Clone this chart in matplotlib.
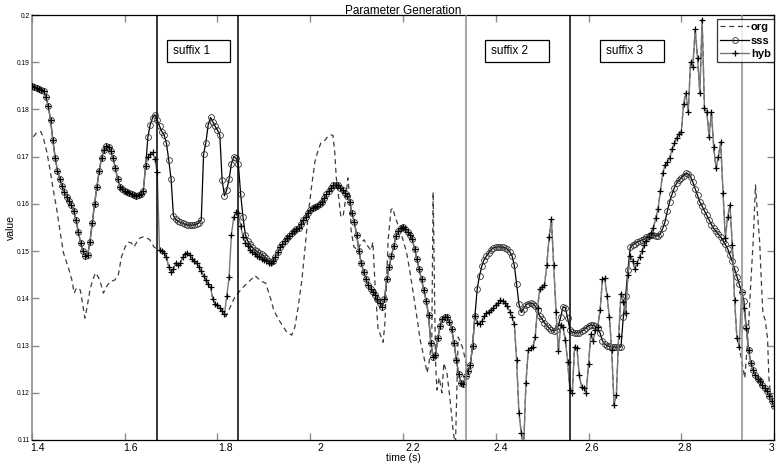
import numpy as np
import matplotlib.pyplot as plt
from matplotlib.patches import Rectangle
from matplotlib.transforms import ScaledTranslation

plt.rcParams['font.family'] = ['Liberation Sans', 'DejaVu Sans']

# Frames every 5 ms. Segments where sss and hyb coincide are shared.
step = 0.005

# 1.400 .. 1.645 (shared by sss and hyb)
seg_a = [0.1850, 0.1848, 0.1846, 0.1844, 0.1842, 0.1840, 0.1826, 0.1808, 0.1778, 0.1735,
         0.1698, 0.1670, 0.1652, 0.1638, 0.1625, 0.1615, 0.1606, 0.1597, 0.1585, 0.1565,
         0.1540, 0.1517, 0.1500, 0.1490, 0.1492, 0.1520, 0.1560, 0.1600, 0.1636, 0.1670,
         0.1698, 0.1714, 0.1722, 0.1720, 0.1713, 0.1697, 0.1675, 0.1652, 0.1636, 0.1631,
         0.1628, 0.1625, 0.1623, 0.1621, 0.1619, 0.1617, 0.1618, 0.1622, 0.1628, 0.1680]

# 1.650 .. 1.915 (suffix 1)
sss_s1 = [0.1742, 0.1768, 0.1782, 0.1789, 0.1778, 0.1765, 0.1753, 0.1746, 0.1728, 0.1692,
          0.1652, 0.1575, 0.1567, 0.1563, 0.1561, 0.1559, 0.1557, 0.1555, 0.1555, 0.1555,
          0.1556, 0.1557, 0.1560, 0.1566, 0.1705, 0.1730, 0.1768, 0.1783, 0.1774, 0.1764,
          0.1756, 0.1746, 0.1650, 0.1617, 0.1630, 0.1652, 0.1685, 0.1700, 0.1697, 0.1684,
          0.1620, 0.1572, 0.1535, 0.1522, 0.1514, 0.1508, 0.1503, 0.1500, 0.1496, 0.1493,
          0.1490, 0.1485, 0.1480, 0.1477]
hyb_s1 = [0.1700, 0.1706, 0.1709, 0.1695, 0.1667, 0.1502, 0.1501, 0.1496, 0.1488, 0.1466,
          0.1456, 0.1462, 0.1475, 0.1470, 0.1475, 0.1487, 0.1494, 0.1496, 0.1492, 0.1483,
          0.1478, 0.1474, 0.1466, 0.1457, 0.1448, 0.1438, 0.1430, 0.1424, 0.1398, 0.1388,
          0.1385, 0.1380, 0.1374, 0.1367, 0.1405, 0.1445, 0.1535, 0.1572, 0.1582, 0.1580,
          0.1553, 0.1530, 0.1518, 0.1510, 0.1503, 0.1498, 0.1494, 0.1490, 0.1487, 0.1484,
          0.1481, 0.1478, 0.1475, 0.1474]

# 1.920 .. 2.345 (shared)
seg_b = [0.1480, 0.1488, 0.1498, 0.1508, 0.1514, 0.1522, 0.1528, 0.1533, 0.1538, 0.1543,
         0.1547, 0.1550, 0.1558, 0.1566, 0.1573, 0.1580, 0.1587, 0.1591, 0.1593, 0.1596,
         0.1600, 0.1604, 0.1612, 0.1620, 0.1627, 0.1634, 0.1639, 0.1640, 0.1639, 0.1634,
         0.1629, 0.1623, 0.1617, 0.1605, 0.1580, 0.1562, 0.1535, 0.1500, 0.1475, 0.1455,
         0.1440, 0.1428, 0.1420, 0.1414, 0.1407, 0.1399, 0.1390, 0.1382, 0.1398, 0.1440,
         0.1466, 0.1490, 0.1510, 0.1532, 0.1543, 0.1549, 0.1551, 0.1547, 0.1540, 0.1535,
         0.1525, 0.1505, 0.1483, 0.1462, 0.1440, 0.1418, 0.1395, 0.1365, 0.1305, 0.1276,
         0.1280, 0.1315, 0.1342, 0.1357, 0.1360, 0.1360, 0.1350, 0.1335, 0.1305, 0.1270,
         0.1240, 0.1220, 0.1219, 0.1235, 0.1247, 0.1258]

# 2.350 .. 3.000 (suffix 2 and 3)
sss_s23 = [0.1300, 0.1362, 0.1420, 0.1448, 0.1468, 0.1482, 0.1490, 0.1496, 0.1503, 0.1507,
           0.1508, 0.1509, 0.1509, 0.1508, 0.1507, 0.1504, 0.1499, 0.1490, 0.1470, 0.1430,
           0.1388, 0.1370, 0.1378, 0.1386, 0.1389, 0.1390, 0.1389, 0.1384, 0.1375, 0.1362,
           0.1356, 0.1348, 0.1342, 0.1337, 0.1332, 0.1331, 0.1333, 0.1342, 0.1360, 0.1382,
           0.1380, 0.1358, 0.1333, 0.1328, 0.1327, 0.1327, 0.1327, 0.1330, 0.1333, 0.1338,
           0.1342, 0.1343, 0.1343, 0.1341, 0.1337, 0.1326, 0.1310, 0.1303, 0.1300, 0.1298,
           0.1297, 0.1297, 0.1297, 0.1297, 0.1297, 0.1360, 0.1405, 0.1460, 0.1508, 0.1513,
           0.1516, 0.1519, 0.1521, 0.1523, 0.1526, 0.1530, 0.1533, 0.1535, 0.1534, 0.1533,
           0.1532, 0.1537, 0.1548, 0.1562, 0.1585, 0.1605, 0.1620, 0.1634, 0.1644, 0.1650,
           0.1655, 0.1660, 0.1665, 0.1663, 0.1658, 0.1646, 0.1632, 0.1618, 0.1604, 0.1595,
           0.1585, 0.1576, 0.1566, 0.1556, 0.1548, 0.1542, 0.1536, 0.1530, 0.1522, 0.1514,
           0.1505, 0.1492, 0.1478, 0.1462, 0.1446, 0.1430, 0.1414, 0.1395, 0.1340, 0.1290,
           0.1264, 0.1248, 0.1237, 0.1230, 0.1224, 0.1216, 0.1210, 0.1203, 0.1193, 0.1182, 0.1172]
hyb_s23 = [0.1300, 0.1362, 0.1348, 0.1346, 0.1352, 0.1362, 0.1368, 0.1372, 0.1375, 0.1380,
           0.1386, 0.1390, 0.1396, 0.1394, 0.1390, 0.1384, 0.1372, 0.1360, 0.1345, 0.1270,
           0.1157, 0.1115, 0.1080, 0.1220, 0.1290, 0.1295, 0.1297, 0.1318, 0.1380, 0.1420,
           0.1424, 0.1428, 0.1470, 0.1530, 0.1568, 0.1470, 0.1370, 0.1288, 0.1343, 0.1340,
           0.1312, 0.1265, 0.1205, 0.1200, 0.1297, 0.1295, 0.1238, 0.1212, 0.1210, 0.1200,
           0.1260, 0.1325, 0.1310, 0.1332, 0.1340, 0.1375, 0.1440, 0.1443, 0.1405, 0.1360,
           0.1290, 0.1175, 0.1195, 0.1320, 0.1410, 0.1392, 0.1368, 0.1450, 0.1490, 0.1480,
           0.1462, 0.1475, 0.1488, 0.1500, 0.1512, 0.1522, 0.1530, 0.1538, 0.1550, 0.1570,
           0.1590, 0.1628, 0.1665, 0.1682, 0.1689, 0.1697, 0.1716, 0.1728, 0.1740, 0.1748,
           0.1752, 0.1812, 0.1835, 0.1795, 0.1900, 0.1890, 0.1970, 0.1910, 0.1835, 0.1990,
           0.1803, 0.1795, 0.1742, 0.1795, 0.1720, 0.1676, 0.1700, 0.1731, 0.1623, 0.1528,
           0.1572, 0.1598, 0.1513, 0.1396, 0.1316, 0.1297, 0.1413, 0.1380, 0.1337, 0.1290,
           0.1264, 0.1248, 0.1237, 0.1230, 0.1224, 0.1216, 0.1210, 0.1203, 0.1193, 0.1182, 0.1172]

seg_starts = [1.400, 1.650, 1.920, 2.350]

# original contour where it is not hidden under hyb
org_t1 = [1.403, 1.410, 1.419, 1.424, 1.432, 1.439, 1.446, 1.453, 1.460, 1.468, 1.475, 1.480,
          1.486, 1.491, 1.496, 1.504, 1.509, 1.514, 1.519, 1.525, 1.531, 1.537, 1.543, 1.548,
          1.554, 1.560, 1.568, 1.579, 1.586, 1.593, 1.601, 1.608, 1.615, 1.620, 1.626, 1.633,
          1.640, 1.647, 1.654, 1.663, 1.672]
org_v1 = [0.1742, 0.1751, 0.1753, 0.1742, 0.1710, 0.1672, 0.1629, 0.1591, 0.1545, 0.1496, 0.1475, 0.1460,
          0.1439, 0.1411, 0.1422, 0.1418, 0.1390, 0.1358, 0.1382, 0.1418, 0.1439, 0.1454, 0.1445, 0.1432,
          0.1411, 0.1424, 0.1435, 0.1439, 0.1449, 0.1488, 0.1509, 0.1519, 0.1517, 0.1509, 0.1519, 0.1528,
          0.1530, 0.1528, 0.1524, 0.1509, 0.1502]
org_t2 = [1.818, 1.836, 1.850, 1.864, 1.881, 1.893, 1.904, 1.915, 1.922, 1.935, 1.949, 1.960,
          1.967, 1.974, 1.982, 1.989, 1.995, 2.002, 2.010, 2.017, 2.023, 2.032, 2.038, 2.045,
          2.049, 2.053, 2.056, 2.062, 2.066, 2.071, 2.077, 2.081, 2.086, 2.088, 2.094, 2.103,
          2.109, 2.116, 2.122, 2.131, 2.135, 2.140, 2.146, 2.153, 2.157, 2.161, 2.168, 2.174,
          2.178, 2.183, 2.191, 2.194, 2.200, 2.208, 2.215, 2.222, 2.230, 2.237, 2.245, 2.252,
          2.256, 2.262, 2.265, 2.270, 2.273, 2.278, 2.284, 2.288, 2.295, 2.301, 2.308, 2.313,
          2.319, 2.328, 2.340, 2.345]
org_v2 = [0.1361, 0.1400, 0.1418, 0.1432, 0.1448, 0.1437, 0.1432, 0.1398, 0.1373, 0.1350, 0.1329, 0.1322,
          0.1340, 0.1382, 0.1439, 0.1509, 0.1572, 0.1630, 0.1689, 0.1714, 0.1729, 0.1735, 0.1743, 0.1746,
          0.1745, 0.1708, 0.1657, 0.1608, 0.1572, 0.1575, 0.1615, 0.1655, 0.1608, 0.1545, 0.1509, 0.1502,
          0.1517, 0.1524, 0.1513, 0.1502, 0.1519, 0.1424, 0.1337, 0.1318, 0.1307, 0.1347, 0.1524, 0.1587,
          0.1591, 0.1572, 0.1551, 0.1541, 0.1524, 0.1496, 0.1456, 0.1411, 0.1360, 0.1312, 0.1276, 0.1242,
          0.1263, 0.1312, 0.1625, 0.1270, 0.1206, 0.1232, 0.1200, 0.1263, 0.1240, 0.1190, 0.1121, 0.1085,
          0.1318, 0.1297, 0.1247, 0.1258]
org_t3 = [2.937, 2.944, 2.950, 2.955, 2.960, 2.964, 2.969, 2.973, 2.976, 2.981, 2.986, 2.989, 2.993, 2.998]
org_v3 = [0.1231, 0.1322, 0.1435, 0.1520, 0.1640, 0.1583, 0.1520, 0.1428, 0.1368, 0.1354, 0.1315, 0.1231,
          0.1188, 0.1174]

boundaries = [1.6695, 1.844, 2.336, 2.560, 2.931]
boundary_colors = ['black', 'black', '#8c8c8c', 'black', '#8c8c8c']
suffix_names = ['suffix 1', 'suffix 2', 'suffix 3']
suffix_box_x = [(1.691, 1.827), (2.377, 2.515), (2.625, 2.763)]
suffix_box_y = (0.1901, 0.1948)

xticks = [1.4, 1.6, 1.8, 2.0, 2.2, 2.4, 2.6, 2.8, 3.0]
xtick_labels = ['1.4', '1.6', '1.8', '2', '2.2', '2.4', '2.6', '2.8', '3']
yticks = [0.11, 0.12, 0.13, 0.14, 0.15, 0.16, 0.17, 0.18, 0.19, 0.2]
ytick_labels = ['0.11', '0.12', '0.13', '0.14', '0.15', '0.16', '0.17', '0.18', '0.19', '0.2']


def seg_time(start, vals):
    return start + step * np.arange(len(vals))


sss_parts = [seg_a, sss_s1, seg_b, sss_s23]
hyb_parts = [seg_a, hyb_s1, seg_b, hyb_s23]
t_sss = np.concatenate([seg_time(s, p) for s, p in zip(seg_starts, sss_parts)])
v_sss = np.concatenate(sss_parts)
t_hyb = np.concatenate([seg_time(s, p) for s, p in zip(seg_starts, hyb_parts)])
v_hyb = np.concatenate(hyb_parts)

# org is hidden under hyb in suffix 1 (1.680-1.810) and suffix 2/3 (2.350-2.925)
t_h1 = seg_time(seg_starts[1], hyb_s1)
t_h23 = seg_time(seg_starts[3], hyb_s23)
m1 = (t_h1 > 1.6775) & (t_h1 < 1.8125)
m2 = t_h23 < 2.9275
t_org = np.concatenate([org_t1, t_h1[m1], org_t2, t_h23[m2], org_t3])
v_org = np.concatenate([org_v1, np.array(hyb_s1)[m1], org_v2, np.array(hyb_s23)[m2], org_v3])

fig = plt.figure(figsize=(7.78, 4.65), dpi=100)
ax = fig.add_axes([0.0411, 0.0538, 0.9538, 0.9139])

ax.plot(t_org, v_org, color='#3c3c3c', lw=0.9, dashes=(4, 3), label='org', zorder=2)
ax.plot(t_sss, v_sss, color='black', lw=0.9, marker='o', ms=4.2, mfc='none', mec='#333333',
        mew=0.6, label='sss', zorder=3)
ax.plot(t_hyb, v_hyb, color='#777777', lw=1.0, marker='+', ms=5, mec='black', mew=0.9,
        label='hyb', zorder=4)

for b, c in zip(boundaries, boundary_colors):
    ax.axvline(b, color=c, lw=1.1, zorder=5)

for name, (x0, x1) in zip(suffix_names, suffix_box_x):
    ax.add_patch(Rectangle((x0, suffix_box_y[0]), x1 - x0, suffix_box_y[1] - suffix_box_y[0],
                           fc='white', ec='black', lw=0.9, zorder=6))
    ax.text(x0 + 0.013, (suffix_box_y[0] + suffix_box_y[1]) / 2, name, ha='left', va='center',
            fontsize=8.5, zorder=7)

ax.set_xlim(1.4, 3.0)
ax.set_ylim(0.11, 0.2)
ax.set_xticks(xticks)
ax.set_xticklabels(xtick_labels, fontsize=7.5)
ax.set_yticks(yticks)
ax.set_yticklabels(ytick_labels, fontsize=4.8)
ax.tick_params(direction='in', length=5, width=1, color='#8c8c8c', top=True, right=True)
ax.tick_params(axis='x', pad=2)
ax.tick_params(axis='y', pad=1.5)
# labels sit a little right of their ticks; the last one stays inside the figure
shifts = [0.05, 0.06, 0.08, 0.1, 0.1, 0.05, 0.03, 0.03, 0.0]
for lab, dx in zip(ax.get_xticklabels(), shifts):
    lab.set_transform(lab.get_transform() + ScaledTranslation(dx, 0, fig.dpi_scale_trans))
    if dx == 0.0:
        lab.set_ha('right')
ax.spines['left'].set_color('#8c8c8c')
ax.spines['left'].set_linewidth(1.2)
for s in ['top', 'bottom', 'right']:
    ax.spines[s].set_linewidth(0.9)

ax.set_title('Parameter Generation', fontsize=8.5, pad=1)
ax.set_xlabel('time (s)', fontsize=7.5, labelpad=0)
ax.set_ylabel('value', fontsize=7.5, labelpad=1)

leg = ax.legend(loc='upper right', bbox_to_anchor=(1.0, 0.991), fontsize=8, frameon=True,
                fancybox=False, edgecolor='black', borderpad=0.3, handlelength=2.6,
                handletextpad=0.15, labelspacing=0.3, borderaxespad=0)
leg.get_frame().set_linewidth(0.9)
for txt in leg.get_texts():
    txt.set_fontweight('bold')
leg.set_zorder(8)

fig.savefig('out.png', dpi=100)
